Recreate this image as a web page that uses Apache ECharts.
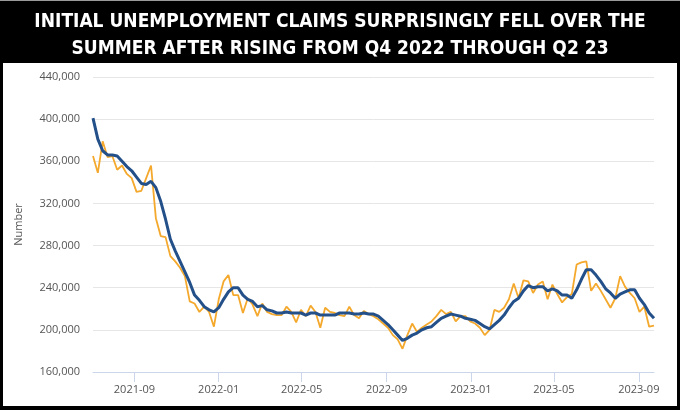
<!DOCTYPE html>
<html>
<head>
<meta charset="utf-8">
<script src="https://cdn.jsdelivr.net/npm/echarts@6/dist/echarts.min.js"></script>
<style>
html,body{margin:0;padding:0;background:#000;}
#chart{width:680px;height:410px;}
</style>
</head>
<body>
<div id="chart"></div>
<script>
// Weekly initial claims (thousands), week ending from 2021-07-03
const startDate = '2021-07-03';
const weeklyClaims = [
365,349,379,364,365,352,356,348,344,331,332,344,356,306,289,288,270,265,259,251,
227,225,217,222,217,203,229,246,252,233,233,216,230,224,213,225,217,215,214,214,
222,217,207,219,213,223,217,202,221,217,216,214,213,222,214,211,218,215,213,210,
206,202,195,191,182,195,206,198,202,205,208,213,219,215,217,208,213,213,208,206,
202,195,200,219,217,221,229,244,230,247,246,235,243,246,229,243,234,226,231,234,
262,264,265,237,244,237,229,221,230,251,241,235,230,217,222,203,204
];
const movingAvg4w = [
401,381,370,366,366,365,360,355,351,345,339,338,341,335,322,305,286,275,265,255,
245,233,228,222,219,217,221,229,236,240,240,233,229,227,222,223,219,218,216,216,
217,216,216,216,214,216,216,214,214,214,214,216,216,216,215,215,216,215,215,213,
209,205,200,195,190,192,195,197,200,202,203,207,211,213,215,214,213,211,210,209,
206,203,201,205,209,214,221,227,230,237,242,240,241,241,237,239,237,233,233,230,
238,248,257,257,252,246,239,235,230,234,236,238,238,230,224,216,211
];
const xTickLabels = ['2021-09','2022-01','2022-05','2022-09','2023-01','2023-05','2023-09'];
const yTicks = [160000,200000,240000,280000,320000,360000,400000,440000];
const titleLines = ['INITIAL UNEMPLOYMENT CLAIMS SURPRISINGLY FELL OVER THE','SUMMER AFTER RISING FROM Q4 2022 THROUGH Q2 23'];

const DAY = 86400000;
const [sy, sm, sd] = startDate.split('-').map(Number);
const t0 = Date.UTC(sy, sm-1, sd);
const dates = weeklyClaims.map((_, i) => t0 + i*7*DAY);
const claimsData = weeklyClaims.map((v,i)=>[dates[i], v*1000]);
const avgData = movingAvg4w.map((v,i)=>[dates[i], v*1000]);
const tickTimes = xTickLabels.map(s => { const [y,m]=s.split('-').map(Number); return Date.UTC(y,m-1,1); });

const chart = echarts.init(document.getElementById('chart'), null, {renderer:'canvas'});
chart.setOption({
  animation:false,
  backgroundColor:'#000',
  graphic:[
    {type:'rect', shape:{x:0,y:0,width:680,height:1}, style:{fill:'#9a9a9a'}, z:-10},
    {type:'rect', shape:{x:3,y:63,width:674,height:343}, style:{fill:'#fff'}, z:-10}
  ],
  title:{
    text: titleLines.join('\n'),
    left:'center', top:4,
    textStyle:{color:'#fff', fontSize:19, fontWeight:'bold', fontFamily:'DejaVu Sans Condensed', lineHeight:27}
  },
  grid:{left:93, right:26, top:77, bottom:38, containLabel:false},
  xAxis:{
    type:'value',
    min: dates[0], max: dates[dates.length-1],
    axisLine:{show:true, lineStyle:{color:'#ccd6eb', width:1}},
    axisTick:{show:true, customValues: tickTimes, length:10, lineStyle:{color:'#ccd6eb'}},
    axisLabel:{customValues: tickTimes, color:'#555', fontSize:11, fontFamily:'Open Sans', margin:12,
      formatter:(v)=>{ const d=new Date(v); return d.getUTCFullYear()+'-'+String(d.getUTCMonth()+1).padStart(2,'0'); }},
    splitLine:{show:false}
  },
  yAxis:{
    type:'value', min:yTicks[0], max:yTicks[yTicks.length-1], interval:40000,
    name:'Number', nameLocation:'middle', nameGap:69, nameRotate:90,
    nameTextStyle:{color:'#555', fontSize:11, fontFamily:'Open Sans'},
    axisLine:{show:false}, axisTick:{show:false},
    axisLabel:{color:'#555', fontSize:11, fontFamily:'Open Sans', margin:13,
      formatter:(v)=>v.toLocaleString('en-US')},
    splitLine:{lineStyle:{color:'#e6e6e6', width:1}}
  },
  series:[
    {type:'line', data:claimsData, showSymbol:false, lineStyle:{color:'#f4a82c', width:1.8}, itemStyle:{color:'#f4a82c'}, z:2},
    {type:'line', data:avgData, showSymbol:false, lineStyle:{color:'#24508a', width:3}, itemStyle:{color:'#24508a'}, z:3}
  ]
});
</script>
</body>
</html>
